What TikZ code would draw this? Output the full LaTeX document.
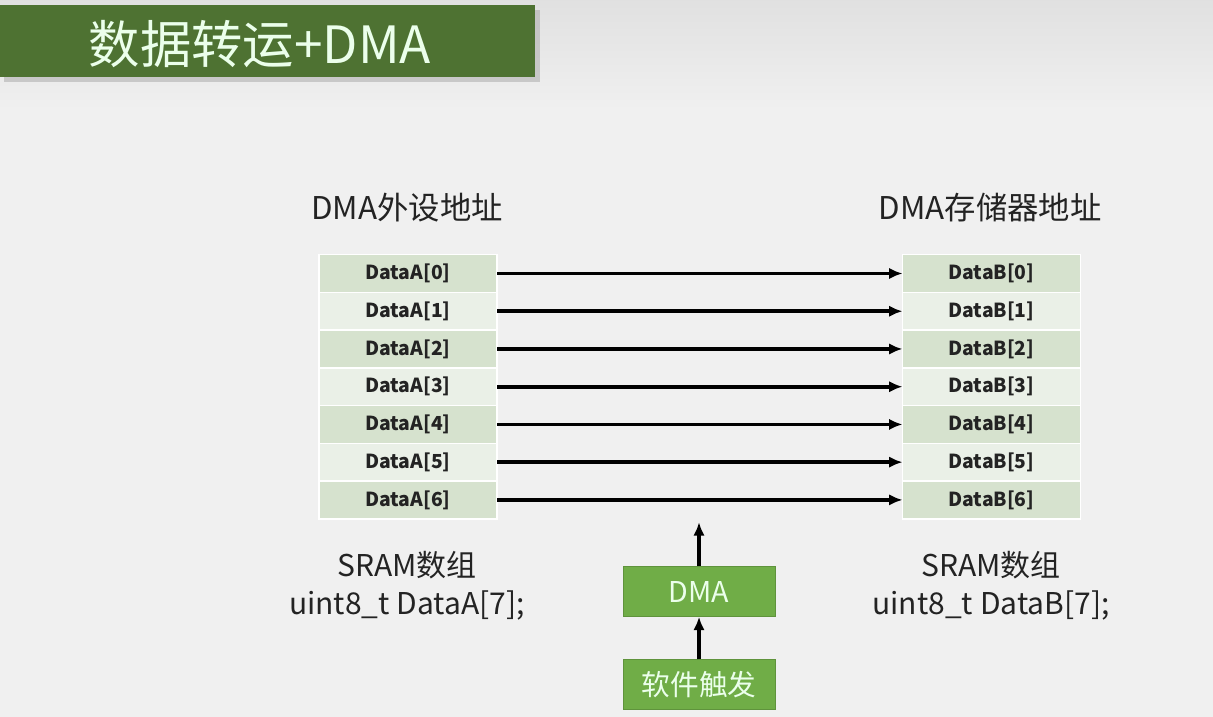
\documentclass[tikz,border=0pt]{standalone}
\usepackage{fontspec}
\setmainfont{Noto Sans CJK SC}
\usepackage{xcolor}
\usetikzlibrary{positioning,arrows.meta}

\definecolor{titlegreen}{RGB}{78,114,50}
\definecolor{boxgreen}{RGB}{112,173,71}
\definecolor{rowdark}{RGB}{214,226,206}
\definecolor{rowlight}{RGB}{234,240,231}
\definecolor{bggray}{RGB}{240,240,240}
\definecolor{inkgray}{RGB}{35,35,35}

\begin{document}
\begin{tikzpicture}[x=0.75pt, y=-0.75pt, node distance=0pt, >={Latex[length=10pt,width=8.5pt]}]
    \tikzstyle{cell}=[rectangle, draw=white, line width=1.2pt, outer sep=0pt, minimum width=133.5pt, minimum height=28.3pt, text=inkgray, font=\fontsize{14.5}{16}\selectfont\bfseries]
    \tikzstyle{rowdk}=[cell, fill=rowdark]
    \tikzstyle{rowlt}=[cell, fill=rowlight]
    \tikzstyle{heading}=[text=inkgray, font=\fontsize{23.5}{28}\selectfont]
    \tikzstyle{note}=[align=center, text=inkgray, font=\fontsize{22.5}{28.5}\selectfont]
    \tikzstyle{ctrl}=[rectangle, fill=boxgreen, draw=boxgreen!85!black, line width=0.4pt, minimum width=114pt, minimum height=37.5pt, text=white!92!green, font=\fontsize{21.5}{25}\selectfont]
    \tikzstyle{move}=[->, line width=2.8pt]

    % page and title
    \useasboundingbox (0,0) rectangle (1213,717);
    \fill[bggray] (0,0) rectangle (1213,717);
    \shade[top color=black!12, bottom color=bggray] (0,0) rectangle (1213,110);
    \fill[black!35, opacity=0.5] (4,10) rectangle (540,82);
    \fill[titlegreen] (0,5) rectangle (535,77);
    \node[text=white!92!green, font=\fontsize{38.5}{44}\selectfont] (title) at (260,44) {数据转运+DMA};

    % source array
    \node[heading] (hdra) at (407,208) {DMA外设地址};
    \node[rowdk] (a0) at (408,273.5) {DataA[0]};
    \node[rowlt, below=of a0] (a1) {DataA[1]};
    \node[rowdk, below=of a1] (a2) {DataA[2]};
    \node[rowlt, below=of a2] (a3) {DataA[3]};
    \node[rowdk, below=of a3] (a4) {DataA[4]};
    \node[rowlt, below=of a4] (a5) {DataA[5]};
    \node[rowdk, below=of a5] (a6) {DataA[6]};
    \node[note] (srca) at (407,586) {SRAM数组\\uint8\_t DataA[7];};

    % destination array
    \node[heading] (hdrb) at (990,208) {DMA存储器地址};
    \node[rowdk] (b0) at (991.5,273.5) {DataB[0]};
    \node[rowlt, below=of b0] (b1) {DataB[1]};
    \node[rowdk, below=of b1] (b2) {DataB[2]};
    \node[rowlt, below=of b2] (b3) {DataB[3]};
    \node[rowdk, below=of b3] (b4) {DataB[4]};
    \node[rowlt, below=of b4] (b5) {DataB[5]};
    \node[rowdk, below=of b5] (b6) {DataB[6]};
    \node[note] (srcb) at (991,586) {SRAM数组\\uint8\_t DataB[7];};

    \draw[move] (a0) -- (b0);
    \draw[move] (a1) -- (b1);
    \draw[move] (a2) -- (b2);
    \draw[move] (a3) -- (b3);
    \draw[move] (a4) -- (b4);
    \draw[move] (a5) -- (b5);
    \draw[move] (a6) -- (b6);

    % trigger
    \node[ctrl] (dma) at (699,591.5) {DMA};
    \node[ctrl, below=32pt of dma] (trig) {软件触发};
    \coordinate[above=33pt of dma] (dmaout);

    \draw[move] (dma) -- (dmaout);
    \draw[move] (trig) -- (dma);
\end{tikzpicture}
\end{document}
